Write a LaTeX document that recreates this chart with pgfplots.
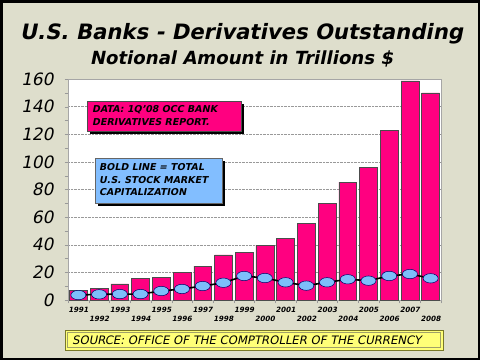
\documentclass[border=0pt]{standalone}
\usepackage{graphicx}
\usepackage{pgfplots}
\pgfplotsset{compat=1.18}
\usepackage{fontspec}
\setmainfont{DejaVu Sans}[ItalicFont={DejaVu Sans}, ItalicFeatures={FakeSlant=0.2}, BoldFont={DejaVu Sans Bold}, BoldItalicFont={DejaVu Sans Bold}, BoldItalicFeatures={FakeSlant=0.2}]
\definecolor{bg}{RGB}{222,222,204}
\definecolor{barpink}{RGB}{255,0,128}
\definecolor{dotblue}{RGB}{125,190,250}
\definecolor{boxblue}{RGB}{130,190,255}
\definecolor{srcyellow}{RGB}{255,255,120}
\definecolor{olive2}{RGB}{120,120,40}
\pgfplotstableread{
x deriv stock
0 7.2 3.6
1 8.5 4.1
2 11.6 4.3
3 15.7 4.3
4 16.6 6.5
5 19.8 8.0
6 24.6 10.1
7 32.6 12.5
8 34.3 17.4
9 39.8 15.9
10 44.6 12.8
11 55.5 10.4
12 70.0 12.8
13 85.4 15.0
14 95.8 14.0
15 122.6 17.4
16 158.6 18.8
17 150.0 15.7
}\datatable
\begin{document}
\begin{tikzpicture}[x=1pt,y=1pt]
\useasboundingbox (0pt,0pt) rectangle (480pt,360pt);
\fill[bg] (0pt,0pt) rectangle (480pt,360pt);
\draw[black,line width=2.5pt] (1.25pt,1.25pt) rectangle (478.75pt,358.75pt);
\node[anchor=base,inner sep=0pt,font=\bfseries\itshape] at (241.5pt,320pt) {\resizebox{443pt}{!}{U.S. Banks - Derivatives Outstanding}};
\node[anchor=base,inner sep=0pt,font=\bfseries\itshape] at (241.5pt,295pt) {\resizebox{303pt}{!}{Notional Amount in Trillions \$}};
\begin{axis}[
  at={(68pt,60pt)}, anchor=south west,
  scale only axis, width=373pt, height=221pt,
  xmin=-0.5, xmax=17.5, ymin=0, ymax=160,
  axis background/.style={fill=white},
  axis line style={gray!70},
  ytick={0,20,...,160}, minor ytick={10,30,...,150},
  ymajorgrids, major grid style={densely dotted, gray!80},
  tick align=outside, tick style={gray!80, line cap=rect},
  major tick length=3pt, minor tick length=3pt,
  xtick pos=bottom, ytick pos=left,
  /pgf/number format/assume math mode=true,
  yticklabel style={font=\itshape\fontsize{17}{18}\selectfont, xshift=-8pt},
  xtick={-0.5,0.5,...,17.5},
  xticklabels={\smash{1991},\smash{\raisebox{-9pt}{1992}},\smash{1993},\smash{\raisebox{-9pt}{1994}},\smash{1995},\smash{\raisebox{-9pt}{1996}},\smash{1997},\smash{\raisebox{-9pt}{1998}},\smash{1999},\smash{\raisebox{-9pt}{2000}},\smash{2001},\smash{\raisebox{-9pt}{2002}},\smash{2003},\smash{\raisebox{-9pt}{2004}},\smash{2005},\smash{\raisebox{-9pt}{2006}},\smash{2007},\smash{\raisebox{-9pt}{2008}}},
  xticklabel style={font=\bfseries\itshape\fontsize{7.2}{8}\selectfont, xshift=10.36pt, yshift=-6pt},
  clip=false,
]
\addplot[ybar, bar width=17.8pt, fill=barpink, draw=black!70, line width=0.5pt] table[x=x,y=deriv] {\datatable};
\addplot[black, line width=1.6pt, mark=*, mark size=4.7pt, mark options={fill=dotblue, draw=blue!40!black, line width=0.5pt, xscale=1.6}] table[x=x,y=stock] {\datatable};
\end{axis}
% annotation boxes
\fill[black] (90pt,226pt) rectangle (244pt,256pt);
\filldraw[fill=barpink, draw=black!70] (87pt,229pt) rectangle (241pt,259pt);
\node[anchor=base west, inner sep=0pt, font=\bfseries\itshape\fontsize{9.5}{12}\selectfont] at (92pt,248pt) {DATA: 1Q'08 OCC BANK};
\node[anchor=base west, inner sep=0pt, font=\bfseries\itshape\fontsize{9.5}{12}\selectfont] at (92pt,235pt) {DERIVATIVES REPORT.};
\fill[black] (98pt,154pt) rectangle (225pt,199pt);
\filldraw[fill=boxblue, draw=black!60] (95pt,157pt) rectangle (222pt,202pt);
\node[anchor=base west, inner sep=0pt, font=\bfseries\itshape\fontsize{9.5}{12}\selectfont] at (99pt,190pt) {BOLD LINE = TOTAL};
\node[anchor=base west, inner sep=0pt, font=\bfseries\itshape\fontsize{9.5}{12}\selectfont] at (99pt,177pt) {U.S. STOCK MARKET};
\node[anchor=base west, inner sep=0pt, font=\bfseries\itshape\fontsize{9.5}{12}\selectfont] at (99pt,165pt) {CAPITALIZATION};
% source box
\filldraw[fill=srcyellow, draw=olive2, line width=1pt] (65pt,10pt) rectangle (443pt,30pt);
\draw[olive2!70, line width=0.5pt] (67.5pt,12.5pt) rectangle (440.5pt,27.5pt);
\node[anchor=base west, inner sep=0pt, font=\itshape] at (72pt,15.5pt) {\resizebox{349pt}{!}{SOURCE: OFFICE OF THE COMPTROLLER OF THE CURRENCY}};
\end{tikzpicture}
\end{document}
